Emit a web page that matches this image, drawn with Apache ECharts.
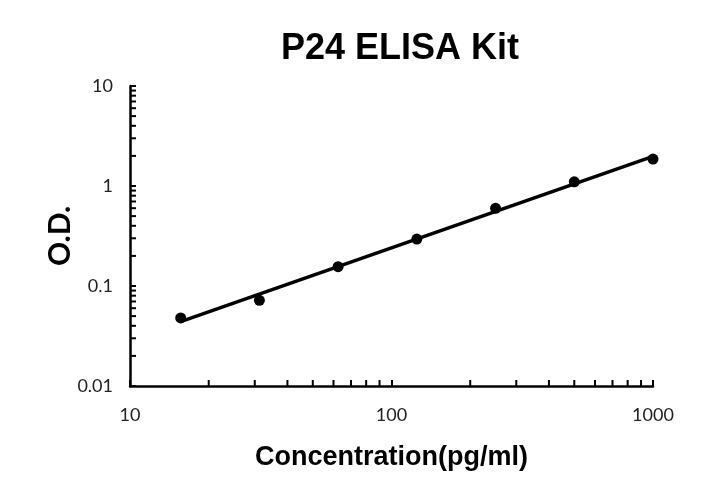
<!DOCTYPE html>
<html>
<head>
<meta charset="utf-8">
<script src="https://cdn.jsdelivr.net/npm/echarts@6/dist/echarts.min.js"></script>
<style>
  html, body { margin: 0; padding: 0; background: #fff; }
  #chart { width: 702px; height: 496px; }
</style>
</head>
<body>
<div id="chart"></div>
<script>
// standard concentrations (pg/ml) and measured O.D.
const concentrations = [15.625, 31.25, 62.5, 125, 250, 500, 1000];
const odValues = [0.048, 0.072, 0.156, 0.295, 0.598, 1.10, 1.86];

const xTickLabels = [10, 100, 1000];
const yTickLabels = [0.01, 0.1, 1, 10];

// minor tick positions inside each decade (2..9)
function decadeTicks(starts) {
  const out = [];
  starts.forEach(function (d) {
    for (let k = 2; k <= 9; k++) out.push(+(k * d).toPrecision(3));
  });
  return out;
}
const xMinor = decadeTicks([10, 100]);
const yMinor = decadeTicks([0.01, 0.1, 1]);

// power trendline (least squares on log-log), like Excel
function powerFit(xs, ys) {
  const lx = xs.map(Math.log10), ly = ys.map(Math.log10);
  const n = lx.length;
  const mx = lx.reduce((a, b) => a + b, 0) / n;
  const my = ly.reduce((a, b) => a + b, 0) / n;
  let sxy = 0, sxx = 0;
  for (let i = 0; i < n; i++) {
    sxy += (lx[i] - mx) * (ly[i] - my);
    sxx += (lx[i] - mx) * (lx[i] - mx);
  }
  const b = sxy / sxx, a = my - b * mx;
  return function (x) { return Math.pow(10, a + b * Math.log10(x)); };
}
const fit = powerFit(concentrations, odValues);
const xFirst = concentrations[0], xLast = concentrations[concentrations.length - 1];
const trendData = [[xFirst, fit(xFirst)], [xLast, fit(xLast)]];

const myChart = echarts.init(document.getElementById('chart'));

const tickFont = { fontFamily: 'Lato', fontSize: 18, color: '#222' };

const option = {
  animation: false,
  backgroundColor: '#fff',
  title: {
    text: 'P24 ELISA Kit',
    left: 395,
    top: 26,
    textAlign: 'center',
    textStyle: { fontFamily: 'Liberation Sans', fontWeight: 'bold', fontSize: 36, color: '#000' }
  },
  grid: { left: 130, right: 49, top: 86, bottom: 110 },
  xAxis: {
    type: 'log',
    logBase: 10,
    min: 10,
    max: 1000,
    name: 'Concentration(pg/ml)',
    nameLocation: 'middle',
    nameGap: 58,
    nameMoveOverlap: false,
    nameTextStyle: { fontFamily: 'Liberation Sans', fontWeight: 'bold', fontSize: 27, color: '#000' },
    axisLine: { lineStyle: { color: '#000', width: 2.5 } },
    axisTick: { inside: true, length: 6, lineStyle: { color: '#000', width: 2 } },
    axisLabel: Object.assign({ margin: 20, formatter: function (v) { return xTickLabels.indexOf(v) >= 0 ? String(v) : ''; } }, tickFont),
    splitLine: { show: false }
  },
  yAxis: {
    type: 'log',
    logBase: 10,
    min: 0.01,
    max: 10,
    name: 'O.D.',
    nameLocation: 'middle',
    nameGap: 55,
    nameMoveOverlap: false,
    nameRotate: 90,
    nameTextStyle: { fontFamily: 'Lato', fontWeight: 'bold', fontSize: 30, color: '#000' },
    axisLine: { lineStyle: { color: '#000', width: 2.5 } },
    axisTick: { inside: true, length: 6, lineStyle: { color: '#000', width: 2 } },
    axisLabel: Object.assign({ margin: 17, formatter: function (v) {
      const hit = yTickLabels.find(t => Math.abs(t - v) / t < 1e-6);
      return hit !== undefined ? String(hit) : '';
    } }, tickFont),
    splitLine: { show: false }
  },
  series: [
    {
      // minor ticks on the x axis (inside, pointing up)
      type: 'scatter',
      silent: true,
      clip: false,
      symbol: 'rect',
      symbolSize: [2, 6],
      symbolOffset: [0, -3],
      itemStyle: { color: '#000', opacity: 1 },
      data: xMinor.map(v => [v, 0.01]),
      z: 1
    },
    {
      // minor ticks on the y axis (inside, pointing right)
      type: 'scatter',
      silent: true,
      clip: false,
      symbol: 'rect',
      symbolSize: [6, 2],
      symbolOffset: [3, 0],
      itemStyle: { color: '#000', opacity: 1 },
      data: yMinor.map(v => [10, v]),
      z: 1
    },
    {
      type: 'line',
      data: trendData,
      symbol: 'none',
      lineStyle: { color: '#000', width: 3.5 },
      z: 2
    },
    {
      type: 'scatter',
      data: concentrations.map((c, i) => [c, odValues[i]]),
      symbol: 'circle',
      symbolSize: 11,
      itemStyle: { color: '#000', opacity: 1 },
      z: 3
    }
  ]
};

myChart.setOption(option);
</script>
</body>
</html>
